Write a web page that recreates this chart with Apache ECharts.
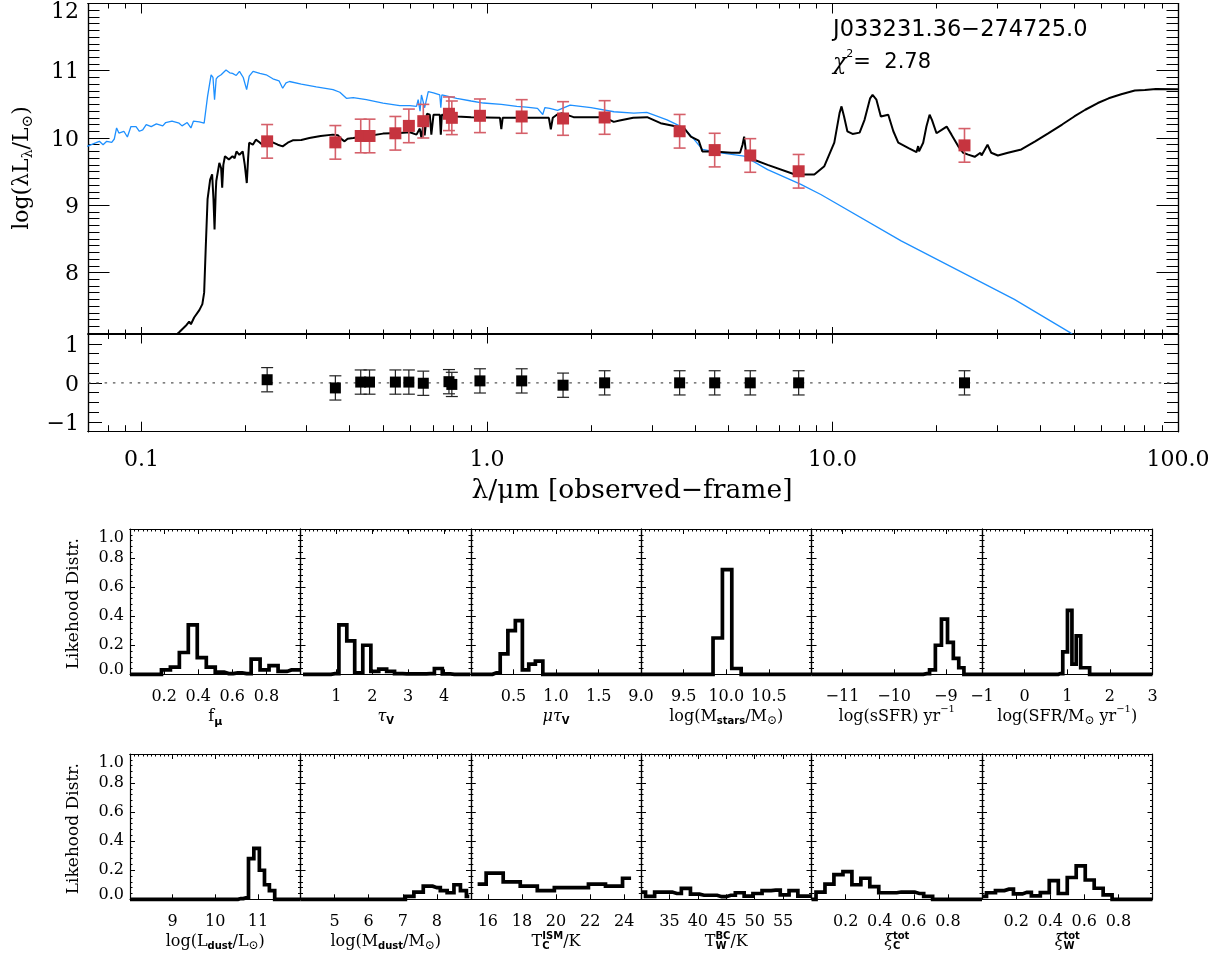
<!DOCTYPE html>
<html>
<head>
<meta charset="utf-8">
<script src="https://cdn.jsdelivr.net/npm/echarts@6/dist/echarts.min.js"></script>
<style>
html,body{margin:0;padding:0;background:#fff;}
#chart{width:1228px;height:960px;}
</style>
</head>
<body>
<div id="chart"></div>
<script>
// ---------------- SED data ----------------
const X_MIN = 0.07, X_MAX = 100;

// observed photometry (wavelength in micron, log luminosity, 1-sigma)
const obsWave = [0.231, 0.364, 0.431, 0.457, 0.543, 0.594, 0.654, 0.776, 0.791, 0.954, 1.26, 1.66, 2.19, 3.61, 4.56, 5.78, 7.98, 24.1];
const obsLogL = [9.95, 9.935, 10.03, 10.03, 10.07, 10.18, 10.25, 10.36, 10.30, 10.33, 10.32, 10.29, 10.305, 10.10, 9.82, 9.74, 9.505, 9.89];
const obsErr  = [0.25, 0.25, 0.25, 0.25, 0.25, 0.25, 0.25, 0.25, 0.25, 0.25, 0.25, 0.25, 0.25, 0.25, 0.25, 0.25, 0.25, 0.25];

// residuals of the fit
const resid    = [0.08, -0.13, 0.02, 0.02, 0.02, 0.02, -0.01, 0.03, -0.04, 0.05, 0.05, -0.06, 0.0, 0.0, 0.0, 0.0, 0.0, 0.0];
const residErr = [0.31, 0.31, 0.31, 0.31, 0.31, 0.31, 0.31, 0.31, 0.31, 0.31, 0.31, 0.31, 0.31, 0.31, 0.31, 0.31, 0.31, 0.31];

// best-fit model (attenuated stars + dust emission)
const modelWave = [0.118,0.1285,0.135,0.1374,0.139,0.142,0.147,0.150,0.1518,0.1535,0.1553,0.158,0.1601,0.1615,0.1627,0.164,0.1646,0.168,0.170,0.1712,0.1725,0.1744,0.179,0.1834,0.186,0.1883,0.192,0.1963,0.199,0.2017,0.2035,0.2049,0.210,0.2143,0.219,0.2237,0.230,0.2396,0.248,0.2562,0.265,0.274,0.290,0.306,0.330,0.358,0.370,0.380,0.387,0.395,0.410,0.4475,0.500,0.559,0.598,0.625,0.639,0.646,0.655,0.660,0.670,0.683,0.690,0.700,0.730,0.735,0.740,0.817,0.900,1.09,1.10,1.11,1.51,1.53,1.55,1.593,1.65,1.78,2.10,2.16,2.327,2.42,2.65,2.907,3.18,3.714,3.89,4.10,4.20,4.53,5.10,5.40,5.49,5.55,5.62,5.90,6.49,7.75,8.10,8.86,9.47,10.12,10.48,10.62,10.80,11.04,11.43,11.98,12.38,12.85,13.06,13.40,13.80,14.50,15.00,15.50,16.60,17.50,17.70,17.80,18.30,18.70,19.10,19.40,20.00,20.70,21.40,22.10,23.10,23.90,24.70,25.80,26.80,27.00,28.10,28.80,30.10,32.20,35.20,38.60,42.10,46.20,50.10,53.90,58.60,63.00,68.50,75.00,80.20,86.30,100.0];
const modelLogL = [6.95,7.11,7.22,7.27,7.23,7.33,7.44,7.53,7.70,8.40,9.09,9.38,9.46,9.10,8.64,9.20,9.36,9.63,9.55,9.26,9.60,9.73,9.68,9.73,9.70,9.80,9.75,9.80,9.60,9.33,9.70,9.93,9.90,9.975,9.94,9.90,9.95,9.935,9.90,9.875,9.93,9.965,9.97,10.0,10.03,10.05,10.04,9.98,9.95,9.99,10.0,10.025,10.065,10.074,10.085,10.05,10.14,10.0,10.22,10.04,10.36,10.345,10.05,10.345,10.345,10.05,10.345,10.32,10.31,10.30,10.13,10.30,10.30,10.13,10.30,10.345,10.37,10.31,10.31,10.32,10.24,10.26,10.30,10.31,10.22,10.15,10.02,9.96,9.80,9.80,9.78,9.78,9.90,10.02,9.78,9.68,9.60,9.46,9.456,9.456,9.58,9.93,10.37,10.47,10.32,10.10,10.06,10.08,10.27,10.59,10.64,10.57,10.32,10.345,10.10,9.93,9.85,9.79,9.88,9.80,9.93,10.17,10.345,10.27,10.07,10.12,10.17,10.05,9.88,9.78,9.753,9.72,9.78,9.74,9.90,9.78,9.74,9.78,9.83,9.95,10.07,10.20,10.32,10.42,10.52,10.59,10.65,10.705,10.715,10.73,10.725];

// unattenuated stellar spectrum
const starWave = [0.0696,0.0736,0.0755,0.0774,0.0793,0.0820,0.0834,0.0847,0.0860,0.0889,0.0910,0.0932,0.0964,0.0986,0.1008,0.1032,0.1067,0.1104,0.1152,0.1175,0.1225,0.1285,0.131,0.1356,0.139,0.1413,0.147,0.1518,0.1553,0.159,0.161,0.1627,0.1645,0.1664,0.170,0.1756,0.180,0.1834,0.188,0.1921,0.197,0.2015,0.205,0.2103,0.220,0.2295,0.240,0.250,0.2562,0.262,0.2681,0.290,0.3205,0.3584,0.375,0.3918,0.410,0.4475,0.500,0.559,0.598,0.625,0.632,0.640,0.646,0.660,0.676,0.700,0.730,0.735,0.740,0.817,0.900,0.976,1.10,1.22,1.30,1.40,1.45,1.47,1.52,1.60,1.74,2.00,2.33,2.66,2.90,3.32,3.71,3.98,4.20,4.75,5.55,6.49,8.10,9.25,15.80,33.60,48.60,55.0];
const starLogL = [9.875,9.926,9.95,9.90,9.95,9.935,9.985,10.15,10.074,10.10,10.015,10.17,10.17,10.10,10.12,10.20,10.17,10.21,10.18,10.23,10.25,10.22,10.18,10.23,10.15,10.25,10.24,10.22,10.62,10.94,10.90,10.57,10.88,10.91,10.94,11.01,10.97,10.96,10.93,10.99,10.90,10.72,10.92,10.99,10.96,10.94,10.88,10.85,10.74,10.82,10.84,10.80,10.76,10.72,10.68,10.59,10.60,10.57,10.52,10.48,10.48,10.47,10.57,10.40,10.64,10.45,10.69,10.67,10.64,10.45,10.64,10.59,10.55,10.52,10.50,10.47,10.46,10.44,10.35,10.45,10.44,10.41,10.49,10.45,10.39,10.37,10.38,10.27,10.15,9.975,9.83,9.78,9.73,9.53,9.31,9.16,8.47,7.60,7.11,6.90];

// ---------------- likelihood distributions ----------------
const unitBins = [0,0.053,0.105,0.158,0.211,0.263,0.316,0.368,0.421,0.474,0.526,0.579,0.632,0.684,0.737,0.789,0.842,0.895,0.947,1.0];
const fmuProb  = [0,0,0,0,0.03,0.05,0.15,0.34,0.115,0.05,0.015,0.005,0.01,0.005,0.105,0.03,0.06,0.02,0.03,0.03];
const tauBins  = [0.07,0.29,0.51,0.74,0.96,1.18,1.40,1.62,1.85,2.07,2.29,2.51,2.73,2.96,3.18,3.40,3.62,3.84,4.06,4.29,4.51,4.73];
const tauProb  = [0,0,0,0,0.005,0.34,0.23,0.01,0.2,0.02,0.035,0.02,0.005,0.003,0.003,0.003,0.005,0.04,0.003,0,0,0];
const muTauBins = [0,0.21,0.30,0.39,0.48,0.565,0.645,0.715,0.80,0.89,2.0];
const muTauProb = [0,0,0.01,0.14,0.30,0.37,0.03,0.07,0.09,0,0];
const mstarBins = [9.0,9.68,9.79,9.90,10.01,10.12,10.23,11.0];
const mstarProb = [0,0,0,0.25,0.72,0.04,0,0];
const ssfrBins = [-11.6,-9.5,-9.37,-9.26,-9.145,-9.025,-8.91,-8.80,-8.70,-8.6,-8.3];
const ssfrProb = [0,0,0.005,0.03,0.2,0.38,0.22,0.11,0.045,0,0];
const sfrBins = [-1,0.74,0.84,0.95,1.06,1.16,1.26,1.37,1.47,1.58,3];
const sfrProb = [0,0,0.005,0.155,0.44,0.07,0.265,0.045,0.045,0,0];
const ldustBins = [8,10.47,10.60,10.72,10.84,10.97,11.10,11.21,11.33,11.46,12];
const ldustProb = [0,0,0.005,0.01,0.28,0.35,0.2,0.1,0.06,0,0];
const mdustBins = [4,6.95,7.2,7.45,7.75,8.0,8.2,8.4,8.6,8.78,8.95];
const mdustProb = [0,0,0.02,0.05,0.09,0.08,0.06,0.045,0.1,0.06,0.02];
const tcBins = [15.4,16.4,17.4,18.4,19.4,20.4,21.4,22.4,23.4,24.4];
const tcProb = [0.105,0.18,0.12,0.09,0.06,0.08,0.08,0.105,0.09,0.145];
const twBins = [30,31.6,33.2,34.7,36.3,37.9,39.5,41.1,42.6,44.2,45.8,47.4,48.9,50.5,52.1,53.7,55.3,56.8,58.4,60];
const twProb = [0.05,0.02,0.05,0.05,0.04,0.075,0.035,0.028,0.028,0.018,0.028,0.045,0.022,0.04,0.06,0.063,0.03,0.06,0.022,0.022];
const xiCProb = [0,0.05,0.105,0.17,0.19,0.1,0.145,0.087,0.045,0.045,0.05,0.05,0.04,0.02,0,0,0,0,0,0];
const xiWProb = [0.02,0.045,0.06,0.07,0.037,0.048,0.023,0.046,0.128,0.04,0.15,0.23,0.133,0.076,0.03,0,0,0,0,0];

// tick labels
const sedXLabels = [0.1, 1, 10, 100];
const sedYLabels = [8, 9, 10, 11, 12];
const resYLabels = [-1, 0, 1];

// ---------------- helpers ----------------
const SERIF = '"DejaVu Serif"';
const SANS = '"DejaVu Sans"';
const INK = '#000';
const zip = (a, b) => a.map((v, i) => [v, b[i]]);
const fmtMinus = s => String(s).replace('-', '\u2212');

const grids = [], xAxes = [], yAxes = [], series = [], graphics = [];
function addGrid(g) { grids.push(Object.assign({ containLabel: false, outerBoundsMode: 'none' }, g)); return grids.length - 1; }
function addX(a) { xAxes.push(a); return xAxes.length - 1; }
function addY(a) { yAxes.push(a); return yAxes.length - 1; }

const axisLine = { show: true, onZero: false, lineStyle: { color: INK, width: 1.2 } };

function tickAxis(base, ticks, len, label) {
  return Object.assign({
    axisLine: axisLine,
    axisTick: { show: true, inside: true, length: len, customValues: ticks, lineStyle: { color: INK, width: 1 } },
    axisLabel: label || { show: false },
    splitLine: { show: false },
    minorTick: { show: false }
  }, base);
}

function range(min, max, step) {
  const out = [];
  const n = Math.round((max - min) / step);
  for (let i = 0; i <= n; i++) out.push(+(min + i * step).toFixed(6));
  return out;
}

// composite label built from pieces (sub/superscripts, stacked indices)
const measure = document.createElement('canvas').getContext('2d');
function textW(t, font) { measure.font = font; return measure.measureText(t).width; }
function composite(pieces, cx, cy, rotation, anchorLeft) {
  const widths = pieces.map(p => p.stack ? Math.max.apply(null, p.stack.map(q => textW(q.t, q.f))) : textW(p.t, p.f));
  const total = widths.reduce((a, b) => a + b, 0);
  let x = anchorLeft ? 0 : -total / 2;
  const children = [];
  pieces.forEach((p, i) => {
    (p.stack || [p]).forEach(q => {
      children.push({ type: 'text', x: x, y: q.dy || 0, style: { text: q.t, font: q.f, fill: INK, align: 'left', verticalAlign: 'middle', textAlign: 'left', textVerticalAlign: 'middle' } });
    });
    x += widths[i];
  });
  return { type: 'group', x: cx, y: cy, rotation: rotation || 0, children: children, silent: true };
}

// ---------------- SED panel ----------------
const minorLog = [];
[0.01, 0.1, 1, 10].forEach(d => { for (let k = 2; k <= 9; k++) { const v = +(k * d).toFixed(4); if (v >= X_MIN && v <= X_MAX) minorLog.push(v); } });

function logX(grid, pos, ticks, len, label) {
  return tickAxis({ type: 'log', logBase: 10, gridIndex: grid, position: pos, min: X_MIN, max: X_MAX }, ticks, len, label);
}
function linY(grid, pos, min, max, ticks, len, label) {
  return tickAxis({ type: 'value', gridIndex: grid, position: pos, min: min, max: max }, ticks, len, label);
}

const gSed = addGrid({ left: 88, top: 3.5, width: 1090, height: 329.5 });
const xSed = addX(logX(gSed, 'bottom', sedXLabels, 6));
addX(logX(gSed, 'bottom', minorLog, 3.5));
addX(logX(gSed, 'top', sedXLabels, 10));
addX(logX(gSed, 'top', minorLog, 5));
const sedYMinor = range(7.1, 12, 0.1);
const ySed = addY(linY(gSed, 'left', 7.1, 12, sedYLabels, 21.5, {
  show: true, customValues: sedYLabels, margin: 9,
  formatter: v => (v === 12 ? '{t|12}' : '{n|' + v + '}'),
  rich: { t: { fontFamily: SERIF, fontSize: 22, color: INK, padding: [18, 0, 0, 0] },
          n: { fontFamily: SERIF, fontSize: 22, color: INK, padding: [4, 0, 0, 0] } }
}));
addY(linY(gSed, 'left', 7.1, 12, sedYMinor, 11.5));
addY(linY(gSed, 'right', 7.1, 12, sedYLabels, 21.5));
addY(linY(gSed, 'right', 7.1, 12, sedYMinor, 11.5));

series.push({ type: 'line', xAxisIndex: xSed, yAxisIndex: ySed, data: zip(starWave, starLogL), showSymbol: false, symbol: 'none',
  lineStyle: { color: '#1e90ff', width: 1.3 }, clip: true, silent: true, z: 2 });
series.push({ type: 'line', xAxisIndex: xSed, yAxisIndex: ySed, data: zip(modelWave, modelLogL), showSymbol: false, symbol: 'none',
  lineStyle: { color: INK, width: 2 }, clip: true, silent: true, z: 3 });

function errorBars(xi, yi, wave, val, err, color, width, cap, z) {
  return {
    type: 'custom', xAxisIndex: xi, yAxisIndex: yi, z: z, silent: true,
    data: wave.map((w, i) => [w, val[i] - err[i], val[i] + err[i]]),
    encode: { x: 0, y: [1, 2] },
    renderItem: (params, api) => {
      const lo = api.coord([api.value(0), api.value(1)]);
      const hi = api.coord([api.value(0), api.value(2)]);
      const st = { stroke: color, lineWidth: width };
      return { type: 'group', children: [
        { type: 'line', shape: { x1: lo[0], y1: lo[1], x2: hi[0], y2: hi[1] }, style: st },
        { type: 'line', shape: { x1: lo[0] - cap, y1: lo[1], x2: lo[0] + cap, y2: lo[1] }, style: st },
        { type: 'line', shape: { x1: hi[0] - cap, y1: hi[1], x2: hi[0] + cap, y2: hi[1] }, style: st }
      ] };
    }
  };
}
series.push(errorBars(xSed, ySed, obsWave, obsLogL, obsErr, '#d5606a', 1.6, 6, 4));
series.push({ type: 'scatter', xAxisIndex: xSed, yAxisIndex: ySed, data: zip(obsWave, obsLogL), symbol: 'rect', symbolSize: 12,
  itemStyle: { color: '#c6343f', opacity: 1 }, silent: true, z: 5 });

// ---------------- residual panel ----------------
const gRes = addGrid({ left: 88, top: 334, width: 1090, height: 97.7 });
const xRes = addX(logX(gRes, 'bottom', sedXLabels, 10, {
  show: true, customValues: sedXLabels, margin: 18, fontFamily: SERIF, fontSize: 22, color: INK,
  formatter: v => (v < 1 ? String(v) : v.toFixed(1))
}));
addX(logX(gRes, 'bottom', minorLog, 6.5));
addX(logX(gRes, 'top', sedXLabels, 9.5));
addX(logX(gRes, 'top', minorLog, 5));
const resMinor = range(-1.25, 1.25, 0.25);
const yRes = addY(linY(gRes, 'left', -1.25, 1.25, resYLabels, 14, {
  show: true, customValues: resYLabels, margin: 9,
  formatter: v => '{n|' + fmtMinus(v) + '}',
  rich: { n: { fontFamily: SERIF, fontSize: 22, color: INK, padding: [5, 0, 0, 0] } }
}));
addY(linY(gRes, 'left', -1.25, 1.25, resMinor, 11));
addY(linY(gRes, 'right', -1.25, 1.25, resYLabels, 14));
addY(linY(gRes, 'right', -1.25, 1.25, resMinor, 11));

series.push({ type: 'line', xAxisIndex: xRes, yAxisIndex: yRes, data: [[X_MIN, 0], [X_MAX, 0]], symbol: 'none',
  lineStyle: { color: '#555', width: 1.4, type: [2.5, 5.8] }, silent: true, z: 2 });
series.push(errorBars(xRes, yRes, obsWave, resid, residErr, '#222', 1.2, 6, 3));
series.push({ type: 'scatter', xAxisIndex: xRes, yAxisIndex: yRes, data: zip(obsWave, resid), symbol: 'rect', symbolSize: 11,
  itemStyle: { color: INK, opacity: 1 }, silent: true, z: 4 });

// ---------------- likelihood panels ----------------
const base16 = '16px ' + SERIF;
const ital16 = 'italic 16px ' + SERIF;
const subB = 'bold 10px ' + SANS;
const subO = '12px ' + SERIF;
const supN = '10px ' + SERIF;
const N = t => ({ t: t, f: base16 });
const SUB = t => ({ t: t, f: subB, dy: 5 });
const SUBO = t => ({ t: t, f: subO, dy: 4 });
const SUP = t => ({ t: t, f: supN, dy: -7 });
const STACKSUP = t => ({ t: t, f: subB, dy: -5.5 });

const hists = [
  { bins: unitBins, prob: fmuProb, min: 0, max: 1, labels: [0.2, 0.4, 0.6, 0.8], fmt: v => v.toFixed(1),
    name: [N('f'), { t: '\u03bc', f: 'bold 11px ' + SANS, dy: 5 }] },
  { bins: tauBins, prob: tauProb, min: 0, max: 4.75, labels: [1, 2, 3, 4], fmt: v => String(v),
    name: [{ t: '\u03c4', f: ital16 }, SUB('V')] },
  { bins: muTauBins, prob: muTauProb, min: 0, max: 2, labels: [0.5, 1.0, 1.5], fmt: v => v.toFixed(1),
    name: [{ t: '\u03bc\u03c4', f: ital16 }, SUB('V')] },
  { bins: mstarBins, prob: mstarProb, min: 9, max: 11, labels: [9.0, 9.5, 10.0, 10.5], fmt: v => v.toFixed(1),
    name: [N('log(M'), SUB('stars'), N('/M'), SUBO('\u2299'), N(')')] },
  { bins: ssfrBins, prob: ssfrProb, min: -11.6, max: -8.3, labels: [-11, -10, -9], fmt: v => fmtMinus(v),
    name: [N('log(sSFR) yr'), SUP('\u22121')] },
  { bins: sfrBins, prob: sfrProb, min: -1, max: 3, labels: [-1, 0, 1, 2, 3], fmt: v => fmtMinus(v),
    name: [N('log(SFR/M'), SUBO('\u2299'), N(' yr'), SUP('\u22121'), N(')')] },
  { bins: ldustBins, prob: ldustProb, min: 8, max: 12, labels: [9, 10, 11], fmt: v => String(v),
    name: [N('log(L'), SUB('dust'), N('/L'), SUBO('\u2299'), N(')')] },
  { bins: mdustBins, prob: mdustProb, min: 4, max: 9, labels: [5, 6, 7, 8], fmt: v => String(v),
    name: [N('log(M'), SUB('dust'), N('/M'), SUBO('\u2299'), N(')')] },
  { bins: tcBins, prob: tcProb, min: 15, max: 25, labels: [16, 18, 20, 22, 24], fmt: v => String(v),
    name: [N('T'), { stack: [SUB('C'), STACKSUP('ISM')] }, N('/K')] },
  { bins: twBins, prob: twProb, min: 30, max: 60, labels: [35, 40, 45, 50, 55], fmt: v => String(v),
    name: [N('T'), { stack: [SUB('W'), STACKSUP('BC')] }, N('/K')] },
  { bins: unitBins, prob: xiCProb, min: 0, max: 1, labels: [0.2, 0.4, 0.6, 0.8], fmt: v => v.toFixed(1),
    name: [{ t: '\u03be', f: ital16 }, { stack: [SUB('C'), STACKSUP('tot')] }] },
  { bins: unitBins, prob: xiWProb, min: 0, max: 1, labels: [0.2, 0.4, 0.6, 0.8], fmt: v => v.toFixed(1),
    name: [{ t: '\u03be', f: ital16 }, { stack: [SUB('W'), STACKSUP('tot')] }] }
];

const colLeft = [130, 300.5, 470.8, 641, 811.5, 982];
const panelW = 170.5, panelH = 145.3;
const rowTop = [529, 754];

hists.forEach((h, i) => {
  const row = Math.floor(i / 6), col = i % 6;
  const g = addGrid({ left: colLeft[col], top: rowTop[row], width: panelW, height: panelH });
  const minor = range(h.min, h.max, (h.max - h.min) / 40);
  const xi = addX(tickAxis({ type: 'value', gridIndex: g, position: 'bottom', min: h.min, max: h.max }, h.labels, 5, {
    show: true, customValues: h.labels, margin: 15, fontFamily: SERIF, fontSize: 16, color: INK, formatter: h.fmt
  }));
  addX(tickAxis({ type: 'value', gridIndex: g, position: 'top', min: h.min, max: h.max }, h.labels, 5));
  addX(tickAxis({ type: 'value', gridIndex: g, position: 'top', min: h.min, max: h.max }, minor, 2.5));
  const yLabel = col === 0 ? {
    show: true, margin: 6,
    formatter: v => (v === 1 ? '{t|1.0}' : v === 0 ? '{b|0.0}' : '{n|' + v.toFixed(1) + '}'),
    rich: { t: { fontFamily: SERIF, fontSize: 16, color: INK, padding: [17, 0, 0, 0] },
            b: { fontFamily: SERIF, fontSize: 16, color: INK, padding: [0, 0, 8, 0] },
            n: { fontFamily: SERIF, fontSize: 16, color: INK } }
  } : { show: false };
  ['left', 'right'].forEach((pos, k) => {
    const idx = addY({
      type: 'value', gridIndex: g, position: pos, min: 0, max: 1, interval: 0.2,
      axisLine: axisLine, splitLine: { show: false },
      axisTick: { show: true, inside: true, length: 5, lineStyle: { color: INK, width: 1 } },
      minorTick: { show: true, splitNumber: 5, length: 2.5, lineStyle: { color: INK, width: 1 } },
      axisLabel: k === 0 ? yLabel : { show: false }
    });
    if (k === 0) h.yi = idx;
  });
  series.push({ type: 'line', xAxisIndex: xi, yAxisIndex: h.yi, data: zip(h.bins, h.prob), step: 'middle',
    symbol: 'none', showSymbol: false, lineStyle: { color: INK, width: 3.7, cap: 'butt', join: 'miter' }, clip: false, silent: true, z: 3 });
  graphics.push(composite(h.name, colLeft[col] + panelW / 2, rowTop[row] + panelH + 42.5));
});

// ---------------- text ----------------
graphics.push({ type: 'text', x: 833, y: 30, silent: true,
  style: { text: 'J033231.36\u2212274725.0', font: '22.5px ' + SANS, fill: INK, align: 'left', verticalAlign: 'middle', textAlign: 'left', textVerticalAlign: 'middle' } });
graphics.push(composite([{ t: '\u03c7', f: 'italic 22px ' + SERIF }, { t: '2', f: '11px ' + SANS, dy: -9 }, { t: '=  2.78', f: '21px ' + SANS }], 833, 63, 0, true));
graphics.push(composite([{ t: 'log(\u03bbL', f: '22px ' + SERIF }, { t: '\u03bb', f: '14px ' + SERIF, dy: 6 }, { t: '/L', f: '22px ' + SERIF },
  { t: '\u2299', f: '15px ' + SERIF, dy: 6 }, { t: ')', f: '22px ' + SERIF }], 22, 168, Math.PI / 2));
graphics.push(composite([{ t: '\u03bb/\u03bcm [observed\u2212frame]', f: '26.5px ' + SERIF }], 632, 491));
rowTop.forEach(t => graphics.push(composite([{ t: 'Likehood Distr.', f: '17px ' + SERIF }], 74, t + panelH / 2 + 2, Math.PI / 2)));

const chart = echarts.init(document.getElementById('chart'), null, { renderer: 'canvas' });
chart.setOption({
  animation: false,
  backgroundColor: '#fff',
  textStyle: { fontFamily: SERIF, color: INK },
  grid: grids,
  xAxis: xAxes,
  yAxis: yAxes,
  series: series,
  graphic: { elements: graphics }
});
</script>
</body>
</html>
